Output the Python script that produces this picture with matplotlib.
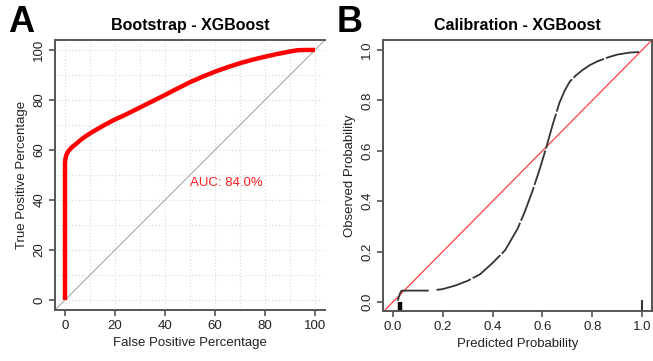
import numpy as np
import matplotlib
matplotlib.use("Agg")
import matplotlib.pyplot as plt

plt.rcParams['font.family'] = ['Liberation Sans', 'DejaVu Sans']

# ROC curve (panel A)
roc_fpr = [0, 0, 0.2, 0.5, 1, 2, 3, 4.5, 6, 8, 10, 13, 16, 20, 24, 28, 32, 36, 40,
           45, 50, 55, 60, 65, 70, 75, 80, 85, 90, 93, 96, 100]
roc_tpr = [0, 55, 56.5, 57.8, 59, 60.3, 61.3, 62.5, 63.8, 65.3, 66.6, 68.4, 70.1,
           72.2, 74, 76, 78, 80, 82, 84.6, 87.1, 89.3, 91.3, 93.1, 94.7, 96.1,
           97.3, 98.4, 99.4, 99.9, 100, 100]
auc_text = "AUC: 84.0%"
a_ticks = [0, 20, 40, 60, 80, 100]

# calibration curve (panel B)
cal_low_x = [0.02, 0.03, 0.035, 0.14]
cal_low_y = [0.008, 0.038, 0.045, 0.045]
cal_x = [0.175, 0.2, 0.25, 0.3, 0.35, 0.4, 0.45, 0.5, 0.53, 0.56, 0.59, 0.616,
         0.64, 0.668, 0.69, 0.71, 0.735, 0.76, 0.79, 0.82, 0.86, 0.9, 0.95, 0.988]
cal_y = [0.048, 0.051, 0.065, 0.084, 0.11, 0.155, 0.205, 0.29, 0.36, 0.44, 0.53,
         0.615, 0.7, 0.79, 0.84, 0.875, 0.9, 0.92, 0.94, 0.955, 0.97, 0.982,
         0.99, 0.992]
rug_x = [0.027, 1.0]
rug_top = [0.0, 0.008]
b_ticks = [0.0, 0.2, 0.4, 0.6, 0.8, 1.0]

fig = plt.figure(figsize=(6.53, 3.61), dpi=100)
axA = fig.add_axes([0.0842, 0.1413, 0.4135, 0.748])
axB = fig.add_axes([0.5865, 0.1385, 0.4120, 0.7507])

spine_col = '#555555'
txt_col = '#222222'

# ---- panel A ----
axA.set_xlim(-4, 104)
axA.set_ylim(-4, 104)
for v in range(0, 101, 10):
    axA.axvline(v, color='#d8d8d8', lw=0.8, ls=(0, (1, 2)), zorder=0)
    axA.axhline(v, color='#d8d8d8', lw=0.8, ls=(0, (1, 2)), zorder=0)
axA.plot([-4, 104], [-4, 104], color='#aaaaaa', lw=0.8, zorder=1)
axA.plot(roc_fpr, roc_tpr, color='#ff0000', lw=3.2, solid_capstyle='butt',
         solid_joinstyle='round', zorder=2)
axA.text(64.4, 46.8, auc_text, color='#ff2020', fontsize=9.5, ha='center', va='center')
axA.set_xticks(a_ticks)
axA.set_yticks(a_ticks)
axA.set_yticklabels([str(t) for t in a_ticks], rotation=90, va='center')
axA.set_xlabel("False Positive Percentage", fontsize=9.5, color=txt_col, labelpad=4)
axA.set_ylabel("True Positive Percentage", fontsize=9.5, color=txt_col, labelpad=4)
axA.set_title("Bootstrap - XGBoost", fontsize=11.5, fontweight='bold', pad=7)
axA.spines['right'].set_visible(False)

# ---- panel B ----
axB.set_xlim(-0.04, 1.04)
axB.set_ylim(-0.036, 1.04)
axB.plot([-0.04, 1.04], [-0.04, 1.04], color='#ff4040', lw=0.9, zorder=1)
axB.plot(cal_low_x, cal_low_y, color='#333333', lw=1.3, zorder=2)
axB.plot(cal_x, cal_y, color='#333333', lw=1.3, dashes=(20, 1.2), zorder=2)
axB.vlines(rug_x[0], -0.036, rug_top[0], color='black', lw=3.2)
axB.vlines(rug_x[1], -0.036, rug_top[1], color='#333333', lw=1.5)
axB.set_xticks(b_ticks)
axB.set_xticklabels([f"{t:.1f}" for t in b_ticks])
axB.set_yticks(b_ticks)
axB.set_yticklabels([f"{t:.1f}" for t in b_ticks], rotation=90, va='center')
axB.set_xlabel("Predicted Probability", fontsize=9.5, color=txt_col, labelpad=4)
axB.set_ylabel("Observed Probability", fontsize=9.5, color=txt_col, labelpad=4)
axB.set_title("Calibration - XGBoost", fontsize=11.5, fontweight='bold', pad=7)

for ax in (axA, axB):
    for s in ax.spines.values():
        s.set_color(spine_col)
        s.set_linewidth(1.4)
    ax.tick_params(direction='out', length=4, width=1.2, color=spine_col,
                   labelsize=9.5, labelcolor=txt_col, pad=3)

fig.text(0.012, 0.985, "A", fontsize=26, fontweight='bold', va='top', ha='left')
fig.text(0.515, 0.985, "B", fontsize=26, fontweight='bold', va='top', ha='left')

fig.savefig("out.png", dpi=100)
